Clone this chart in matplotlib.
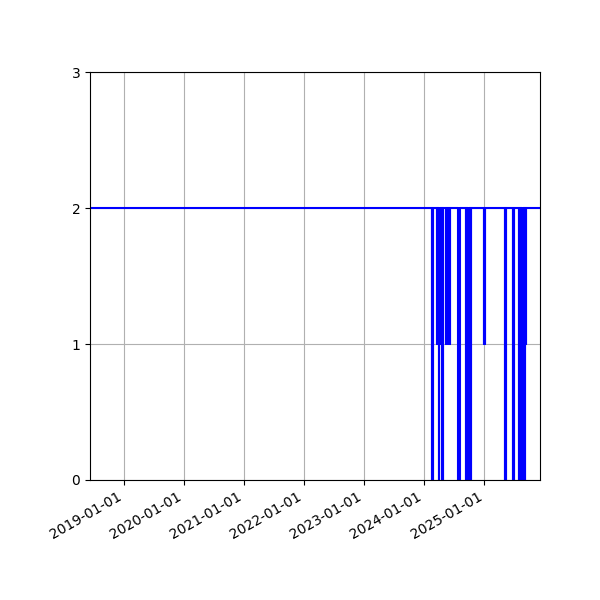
import numpy as np
import pandas as pd
import matplotlib
matplotlib.use("Agg")
import matplotlib.pyplot as plt
import matplotlib.dates as mdates

# Series range and normal level
start_date = "2018-06-09"
end_date = "2025-12-05"
base_level = 2

# Days where the value dropped below the normal level
dip_dates = [
    "2024-02-17", "2024-02-22",
    "2024-03-18", "2024-03-23", "2024-03-28", "2024-04-02", "2024-04-07", "2024-04-11",
    "2024-04-20", "2024-04-26",
    "2024-05-13", "2024-05-19", "2024-05-25", "2024-05-31", "2024-06-04",
    "2024-07-27", "2024-08-02",
    "2024-09-11", "2024-09-16", "2024-09-21", "2024-09-26", "2024-10-01", "2024-10-06", "2024-10-11",
    "2024-12-28", "2025-01-04",
    "2025-05-04", "2025-05-14",
    "2025-06-21", "2025-06-27",
    "2025-08-01", "2025-08-06", "2025-08-13", "2025-08-20", "2025-08-27", "2025-09-02",
    "2025-09-08", "2025-09-12",
]
dip_values = [
    0, 0,
    1, 1, 0, 1, 1, 1,
    0, 0,
    1, 1, 1, 1, 1,
    0, 0,
    0, 0, 0, 0, 0, 0, 0,
    1, 1,
    0, 0,
    0, 0,
    0, 0, 0, 0, 0, 0,
    1, 1,
]

# build a step series: each dip lasts one day, then back to base level
dates = [pd.Timestamp(start_date)]
values = [base_level]
for d, v in zip(dip_dates, dip_values):
    d = pd.Timestamp(d)
    dates += [d, d + pd.Timedelta(days=1)]
    values += [v, base_level]
dates.append(pd.Timestamp(end_date))
values.append(base_level)

fig, ax = plt.subplots(figsize=(6, 6), dpi=100)
fig.subplots_adjust(left=0.15, right=0.9, top=0.88, bottom=0.2)

ax.plot(dates, values, color="blue", drawstyle="steps-post")
ax.set_xlim(pd.Timestamp(start_date), pd.Timestamp(end_date))
ax.set_ylim(0, 3)
ax.set_yticks([0, 1, 2, 3])
ax.xaxis.set_major_locator(mdates.YearLocator())
ax.xaxis.set_major_formatter(mdates.DateFormatter("%Y-%m-%d"))
ax.grid(True)
fig.autofmt_xdate()
fig.subplots_adjust(left=0.15, right=0.9, top=0.88, bottom=0.2)

plt.savefig("out.png")
